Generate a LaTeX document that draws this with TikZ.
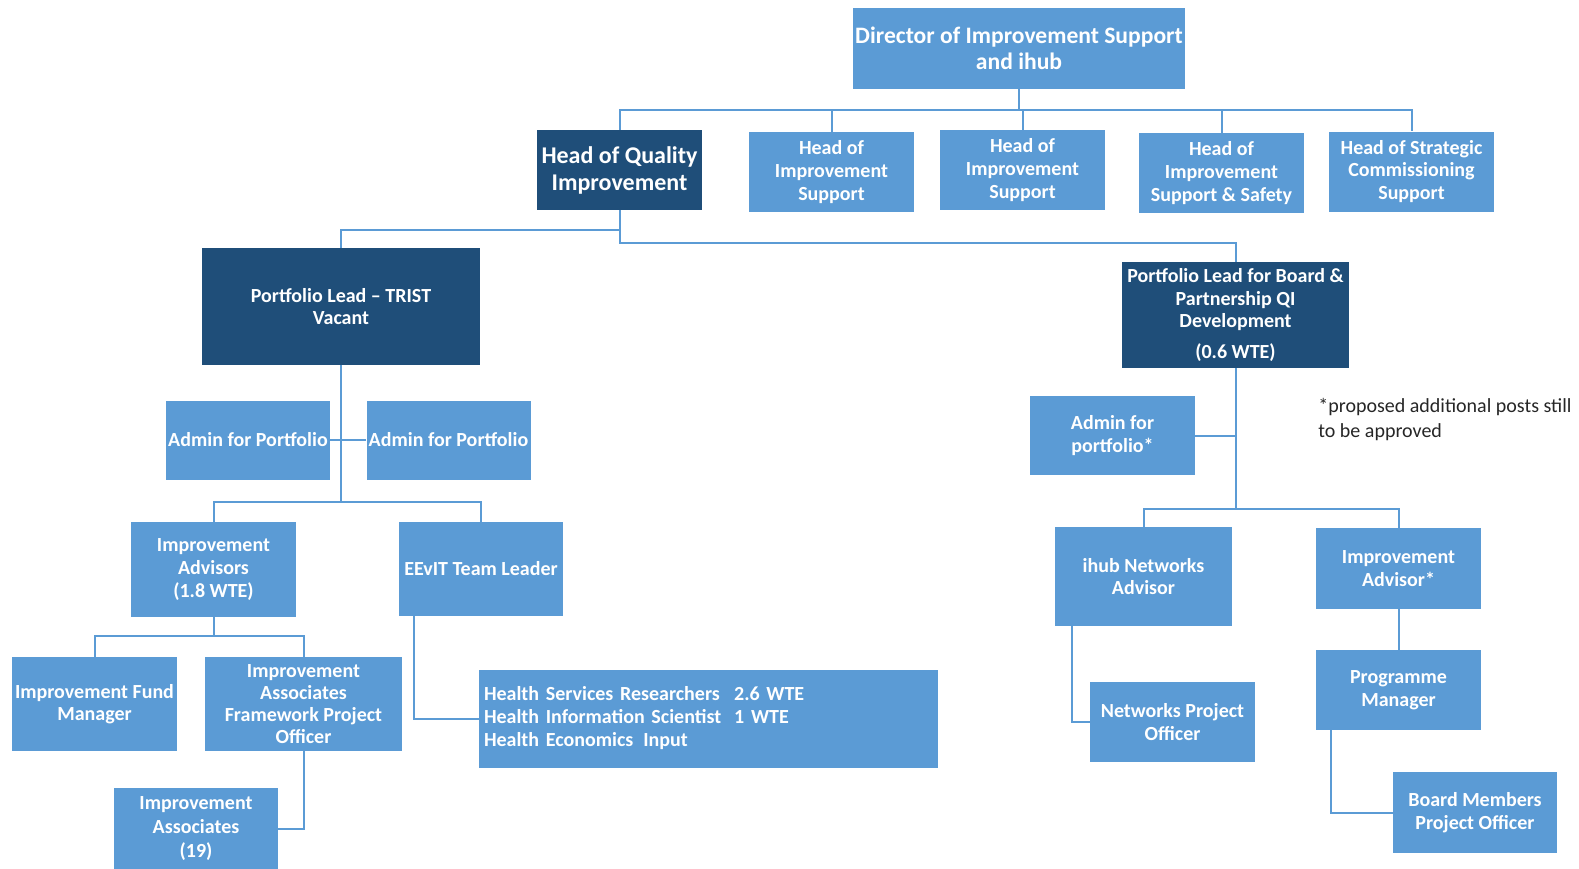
\documentclass[tikz,border=0pt]{standalone}
\usepackage{fontspec}
\setmainfont{Carlito}
\usepackage{xcolor}
\usepackage{tikz}

\definecolor{boxblue}{HTML}{5B9BD5}
\definecolor{boxdark}{HTML}{1F4E79}
\definecolor{linkblue}{HTML}{5B9BD5}

\begin{document}
\begin{tikzpicture}[x=0.5pt, y=-0.5pt]
\tikzstyle{box} = [rectangle, fill=boxblue, text=white, align=center, inner sep=0pt, minimum width=82.5pt, minimum height=40pt, font=\fontsize{10}{11.3}\selectfont\bfseries]
\tikzstyle{darkbox} = [box, fill=boxdark]
\tikzstyle{link} = [draw=linkblue, line width=1pt]

\useasboundingbox (0,0) rectangle (1579,868);

\node[box, minimum width=166pt, minimum height=40.5pt, font=\fontsize{11.8}{13}\selectfont\bfseries] (dir) at (1019,48.5) {Director of Improvement Support\\and ihub};
\node[darkbox, font=\fontsize{12}{13.5}\selectfont\bfseries] (hqi) at (619.5,170) {Head of Quality\\Improvement};
\node[box] (his1) at (831.5,172) {Head of\\Improvement\\Support};
\node[box] (his2) at (1022.5,170) {Head of\\Improvement\\Support};
\node[box] (hiss) at (1221.5,173) {Head of\\Improvement\\Support \& Safety};
\node[box] (hsc) at (1411.5,171.5) {Head of Strategic\\Commissioning\\Support};

\node[darkbox, minimum width=139pt, minimum height=58.5pt] (pt) at (341,306.5) {Portfolio Lead -- TRIST\\Vacant};
\node[darkbox, minimum width=113.5pt, minimum height=53pt] (pb) at (1235.5,315) {Portfolio Lead for Board \&\\Partnership QI\\Development\\[4pt](0.6 WTE)};

\node[box, minimum width=82pt, minimum height=39.5pt] (al) at (248,440) {Admin for Portfolio};
\node[box, minimum width=82pt, minimum height=39.5pt] (ar) at (448.5,440) {Admin for Portfolio};
\node[box, minimum height=47.5pt] (ia) at (213.5,569.5) {Improvement\\Advisors\\(1.8 WTE)};
\node[box, minimum width=82pt, minimum height=47pt] (ee) at (481,569) {EEvIT Team Leader};
\node[box, minimum height=47pt] (ifm) at (94.5,704) {Improvement Fund\\Manager};
\node[box, minimum width=98.5pt, minimum height=47pt, font=\fontsize{10}{11}\selectfont\bfseries] (iafpo) at (303.5,704) {Improvement\\Associates\\Framework Project\\Officer};
\node[box, minimum width=82pt, minimum height=41pt, font=\fontsize{10}{12}\selectfont\bfseries] (ia19) at (196,829) {Improvement\\Associates\\(19)};
\node[box, minimum width=229.5pt, minimum height=49pt, text width=224.5pt, align=left, inner xsep=2.5pt, font=\fontsize{10}{11.5}\selectfont\bfseries] (hs) at (708.5,719) {\raisebox{-1.5pt}{\begin{tabular}{@{}l@{\hspace{6.5pt}}l@{}}Health Services Researchers & 2.6 WTE\\Health Information Scientist & 1 WTE\\Health Economics\enspace Input & \end{tabular}}};

\node[box, minimum height=39.5pt] (ab) at (1112.5,435.5) {Admin for\\portfolio*};
\node[box, minimum width=88.5pt, minimum height=49.5pt] (ihub) at (1143.5,576.5) {ihub Networks\\Advisor};
\node[box, minimum height=40.5pt] (iadv) at (1398.5,568.5) {Improvement\\Advisor*};
\node[box] (npo) at (1172.5,722) {Networks Project\\Officer};
\node[box] (pm) at (1398.5,690) {Programme\\Manager};
\node[box, minimum width=82pt, minimum height=40.5pt] (bmpo) at (1475,812.5) {Board Members\\Project Officer};

\node[anchor=west, align=left, inner sep=0pt, font=\fontsize{10}{12.5}\selectfont, text=black!85] (note) at (1318,420) {*proposed additional posts still\\to be approved};

\coordinate (d1) at (1019,110);
\draw[link] (dir.south) -- (d1);
\foreach \n in {hqi,his1,his2,hiss,hsc}
  \draw[link] (d1) -| (\n.north);

\coordinate (q1) at (619.5,230);
\coordinate (q2) at (619.5,243);
\draw[link] (hqi.south) -- (q2) -| (pb.north);
\draw[link] (q1) -| (pt.north);

\coordinate (t1) at (341,502);
\draw[link] (pt.south) -- (t1);
\draw[link] (al.east) -- (ar.west);
\foreach \n in {ia,ee}
  \draw[link] (t1) -| (\n.north);

\coordinate (a1) at (213.5,636);
\draw[link] (ia.south) -- (a1);
\foreach \n in {ifm,iafpo}
  \draw[link] (a1) -| (\n.north);
\draw[link] (iafpo.south) |- (ia19.east);
\draw[link] ([xshift=7.5pt]ee.south west) |- (hs.west);

\coordinate (b1) at (1235.5,509);
\draw[link] (pb.south) -- (b1);
\draw[link] (ab.east) -- (ab.east -| pb.south);
\foreach \n in {ihub,iadv}
  \draw[link] (b1) -| (\n.north);
\draw[link] ([xshift=8.5pt]ihub.south west) |- (npo.west);
\draw[link] (iadv.south) -- (pm.north);
\draw[link] ([xshift=7.5pt]pm.south west) |- (bmpo.west);
\end{tikzpicture}
\end{document}
